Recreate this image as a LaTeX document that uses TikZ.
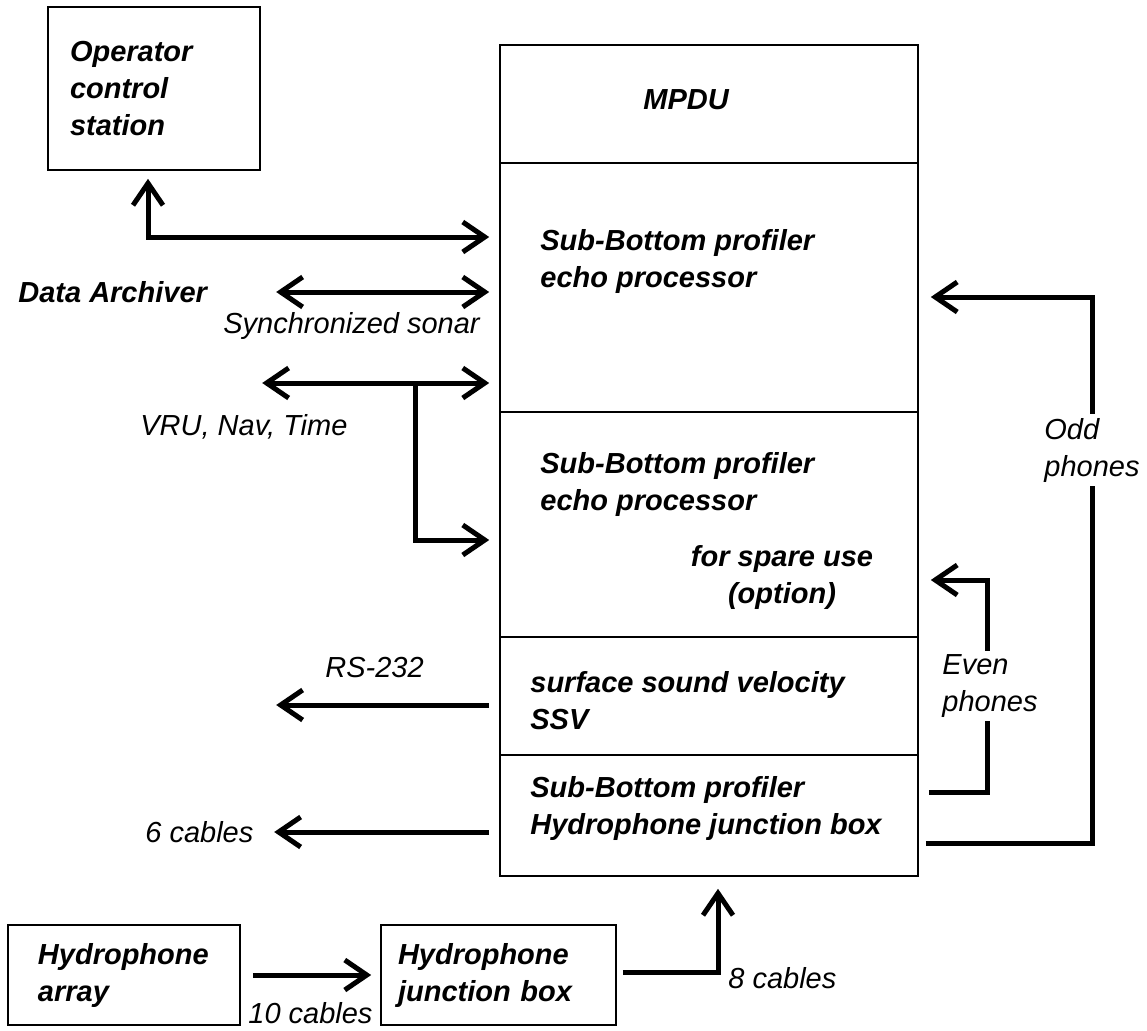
\documentclass[tikz,border=0pt]{standalone}
\usepackage{fontspec}
\setmainfont{Liberation Sans}
\usetikzlibrary{arrows.meta}
\tikzset{
  barb/.tip={Straight Barb[length=11pt,width=15pt]},
  box/.style={draw, line width=0.8pt, inner sep=0pt, align=left, font=\fontsize{14.5}{18.5}\selectfont\bfseries\itshape},
  part/.style={draw, line width=0.8pt, minimum width=209pt, inner sep=0pt},
  txt/.style={anchor=west, inner sep=0pt, align=left, font=\fontsize{14.5}{18.5}\selectfont\bfseries\itshape},
  lab/.style={anchor=west, inner sep=0pt, align=left, font=\fontsize{14.5}{18.5}\selectfont\itshape},
  oneway/.style={line width=2.5pt, -barb},
  twoway/.style={line width=2.5pt, barb-barb}
}
\begin{document}
\begin{tikzpicture}[x=0.5pt,y=-0.5pt]  %Coordenadas em pixels
	\useasboundingbox (0,0) rectangle (1147,1030);
		%Caixa principal
	\node[part, minimum height=59pt] (mpdu) at (709,104) {};
	\node[part, minimum height=124.5pt] (sbp) at (709,287.5) {};
	\node[part, minimum height=112.5pt] (spare) at (709,524.5) {};
	\node[part, minimum height=59pt] (ssv) at (709,696) {};
	\node[part, minimum height=60.5pt] (hjb) at (709,815.5) {};
		%Textos da caixa principal
	\node[txt] (mpduT) at (643,100) {MPDU};
	\node[txt] (sbpT) at (540,261) {Sub-Bottom profiler\\echo processor};
	\node[txt] (spareT) at (540,484) {Sub-Bottom profiler\\echo processor};
	\node[txt, anchor=center, align=center] (optT) at (782,577) {for spare use\\(option)};
	\node[txt] (ssvT) at (530,701) {surface sound velocity\\SSV};
	\node[txt] (hjbT) at (530,808) {Sub-Bottom profiler\\Hydrophone junction box};
		%Caixas externas
	\node[box, minimum width=106pt, minimum height=81.5pt, text width=84pt] (op) at (154,88.5) {Operator\\control\\station};
	\node[box, minimum width=116pt, minimum height=50pt, text width=86pt] (arr) at (124,975) {Hydrophone\\array};
	\node[box, minimum width=117.5pt, minimum height=50pt, text width=100.5pt] (jb) at (498.5,975) {Hydrophone\\junction box};
		%Rotulos
	\node[txt] (da) at (18,292) {Data Archiver};
	\node[lab] (sync) at (223,326) {Synchronized sonar};
	\node[lab] (vru) at (140,427) {VRU, Nav, Time};
	\node[lab] (rs) at (325,668) {RS-232};
	\node[lab] (six) at (145,832) {6 cables};
	\node[lab] (ten) at (248,1013) {10 cables};
	\node[lab] (eight) at (728,978) {8 cables};
		%Setas da esquerda
	\draw[twoway] ([xshift=-3pt,yshift=-4pt]op.south) |- ([xshift=-5pt,yshift=25.25pt]sbp.west); %Operador
	\draw[twoway] ([xshift=-5pt,yshift=-2.25pt]sbp.west) -- ++(-213,0); %Data Archiver
	\draw[twoway] ([xshift=-5pt,yshift=-47.75pt]sbp.west) -- ++(-227,0); %VRU
	\coordinate (vruJ) at (415,383);
	\draw[oneway] (vruJ) |- ([xshift=-5pt,yshift=-7.75pt]spare.west); %Ramo para reserva
	\draw[oneway] ([xshift=-5pt,yshift=-4.5pt]ssv.west) -- ++(-213,0); %RS-232
	\draw[oneway] ([xshift=-5pt,yshift=-8.25pt]hjb.west) -- ++(-215,0); %6 cables
		%Setas da direita
	\draw[oneway] ([xshift=3.5pt,yshift=-13.75pt]hjb.east) -- ++(167,0) -- ++(0,-546) -- ++(-162,0); %Odd phones
	\draw[oneway] ([xshift=5pt,yshift=11.75pt]hjb.east) -- ++(59,0) -- ++(0,-212) -- ++(-57,0); %Even phones
	\node[lab, anchor=center, fill=white, inner sep=2pt] (odd) at (1092,450) {Odd\\phones};
	\node[lab, anchor=center, fill=white, inner sep=2pt] (even) at (990,686) {Even\\phones};
		%Setas de baixo
	\draw[oneway] ([xshift=6pt]arr.east) -- ([xshift=-4.5pt]jb.west); %10 cables
	\draw[oneway] ([xshift=3pt,yshift=1.5pt]jb.east) -| ([xshift=4.5pt,yshift=-6pt]hjb.south); %8 cables
\end{tikzpicture}
\end{document}
